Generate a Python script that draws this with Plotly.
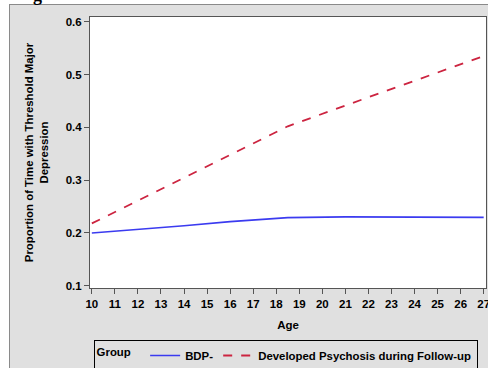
import plotly.graph_objects as go

# Data
age_bdp = [10, 12, 14, 16, 18.5, 21, 24, 27]
prop_bdp = [0.200, 0.2065, 0.2135, 0.2215, 0.229, 0.2305, 0.2302, 0.2295]

age_psy = [10, 14, 18.5, 22, 27]
prop_psy = [0.218, 0.305, 0.402, 0.457, 0.535]

x_ticks = list(range(10, 28))
y_ticks = [0.1, 0.2, 0.3, 0.4, 0.5, 0.6]

W, H = 488, 368
L, R, T, B = 90, 2, 17, 80
pw, ph = W - L - R, H - T - B

def px2x(px):
    return (px - L) / pw

def px2y(py):
    return 1 - (py - T) / ph

FONT = "Liberation Sans"
GRAY = "#e0e0e0"

fig = go.Figure()
fig.add_trace(go.Scatter(x=age_bdp, y=prop_bdp, mode="lines", name="<b>BDP-</b>",
                         line=dict(color="#3b3bf0", width=1.6)))
fig.add_trace(go.Scatter(x=age_psy, y=prop_psy, mode="lines",
                         name="<b>Developed Psychosis during Follow-up</b>",
                         line=dict(color="#cc2440", width=1.8, dash="dash")))

# white strips outside the gray frame, and the frame lines
fig.add_shape(type="rect", xref="paper", yref="paper", layer="below",
              x0=px2x(-5), x1=px2x(9), y0=px2y(375), y1=px2y(-5),
              fillcolor="white", line=dict(width=0))
fig.add_shape(type="rect", xref="paper", yref="paper", layer="below",
              x0=px2x(-5), x1=px2x(495), y0=px2y(4), y1=px2y(-5),
              fillcolor="white", line=dict(width=0))
fig.add_shape(type="line", xref="paper", yref="paper", layer="below",
              x0=px2x(9), x1=px2x(495), y0=px2y(4.5), y1=px2y(4.5),
              line=dict(color="#8a8a8a", width=1))
fig.add_shape(type="line", xref="paper", yref="paper", layer="below",
              x0=px2x(9.5), x1=px2x(9.5), y0=px2y(4.5), y1=px2y(375),
              line=dict(color="#8a8a8a", width=1))

fig.add_annotation(text="<b>g</b>", xref="paper", yref="paper",
                   x=px2x(37), y=px2y(7), xanchor="center", yanchor="bottom",
                   showarrow=False, font=dict(family="Liberation Serif", size=18, color="#000"))

fig.update_layout(
    width=W, height=H,
    margin=dict(l=L, r=R, t=T, b=B, autoexpand=False),
    paper_bgcolor=GRAY, plot_bgcolor="white",
    font=dict(family=FONT, size=11, color="#000"),
    showlegend=True,
    legend=dict(orientation="h", x=0.494, xanchor="center", y=px2y(340), yanchor="top",
                bgcolor=GRAY, bordercolor="#000", borderwidth=1,
                title=dict(text="<b>Group</b>  ", font=dict(size=11.4), side="left"),
                font=dict(size=11.4, family=FONT), valign="middle",
                tracegroupgap=0),
    xaxis=dict(range=[9.92, 27.1], tickvals=x_ticks,
               ticktext=[f"<b>{v}</b>" for v in x_ticks],
               tickfont=dict(size=11.5), ticklabeloverflow="allow",
               ticks="outside", ticklen=5, tickcolor="#555",
               showline=True, linecolor="#555", linewidth=1, mirror=True,
               showgrid=False, zeroline=False,
               title=dict(text="<b>Age</b>", standoff=12, font=dict(size=11.5))),
    yaxis=dict(range=[0.0957, 0.609], tickvals=y_ticks,
               ticktext=[f"<b>{v:.1f}</b>" for v in y_ticks],
               tickfont=dict(size=11.5),
               ticks="outside", ticklen=5, tickcolor="#555",
               showline=True, linecolor="#555", linewidth=1, mirror=True,
               showgrid=False, zeroline=False,
               title=dict(text="<b>Proportion of Time with Threshold Major<br>Depression</b>",
                          standoff=14, font=dict(size=11.4))),
)

fig.write_html("out.html", config={"displayModeBar": False},
               post_script="document.body.style.margin='0';document.body.style.overflow='hidden';")
